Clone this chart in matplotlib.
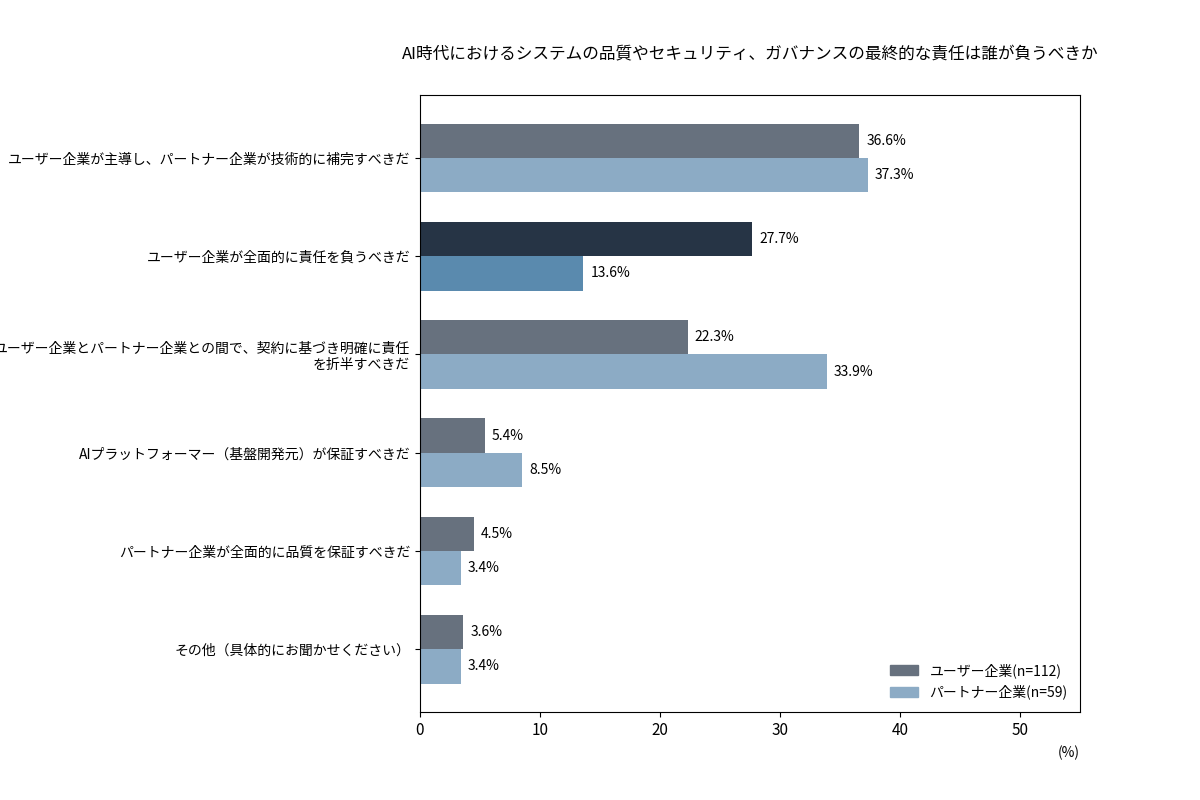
import matplotlib
matplotlib.use("Agg")
import matplotlib.pyplot as plt
import numpy as np
from matplotlib.patches import Patch

plt.rcParams['font.family'] = ['Noto Sans CJK JP', 'DejaVu Sans']

title = "AI時代におけるシステムの品質やセキュリティ、ガバナンスの最終的な責任は誰が負うべきか"
categories = [
    "ユーザー企業が主導し、パートナー企業が技術的に補完すべきだ",
    "ユーザー企業が全面的に責任を負うべきだ",
    "ユーザー企業とパートナー企業との間で、契約に基づき明確に責任\nを折半すべきだ",
    "AIプラットフォーマー（基盤開発元）が保証すべきだ",
    "パートナー企業が全面的に品質を保証すべきだ",
    "その他（具体的にお聞かせください）",
]
user_values = [36.6, 27.7, 22.3, 5.4, 4.5, 3.6]
partner_values = [37.3, 13.6, 33.9, 8.5, 3.4, 3.4]
series_names = ["ユーザー企業(n=112)", "パートナー企業(n=59)"]
xticks = [0, 10, 20, 30, 40, 50]

user_color = "#67717e"
partner_color = "#8cabc5"
hl_user = "#263445"
hl_partner = "#5a8aae"
highlight_index = 1

fig = plt.figure(figsize=(12, 8), dpi=100)
ax = fig.add_axes([0.35, 0.11, 0.55, 0.771])

y = np.arange(len(categories))
h = 0.35
uc = [hl_user if i == highlight_index else user_color for i in range(len(categories))]
pc = [hl_partner if i == highlight_index else partner_color for i in range(len(categories))]
ax.barh(y - h / 2, user_values, height=h, color=uc)
ax.barh(y + h / 2, partner_values, height=h, color=pc)

for i in range(len(categories)):
    ax.text(user_values[i] + 0.6, y[i] - h / 2, f"{user_values[i]:.1f}%", va="center", ha="left", fontsize=10)
    ax.text(partner_values[i] + 0.6, y[i] + h / 2, f"{partner_values[i]:.1f}%", va="center", ha="left", fontsize=10)

ax.set_yticks(y)
ax.set_yticklabels(categories, fontsize=10, ha="right")
ax.set_ylim(len(categories) - 1 + 0.64, -0.64)
ax.set_xlim(0, 55)
ax.set_xticks(xticks)
ax.set_xticklabels([str(t) for t in xticks], fontsize=11)
ax.set_title(title, fontsize=12, pad=26)

ax.text(1.0, -0.055, "(%)", transform=ax.transAxes, ha="right", va="top", fontsize=10)

handles = [Patch(color=user_color), Patch(color=partner_color)]
ax.legend(handles, series_names, loc="lower right", frameon=False, fontsize=10)

fig.savefig("out.png", dpi=100)
